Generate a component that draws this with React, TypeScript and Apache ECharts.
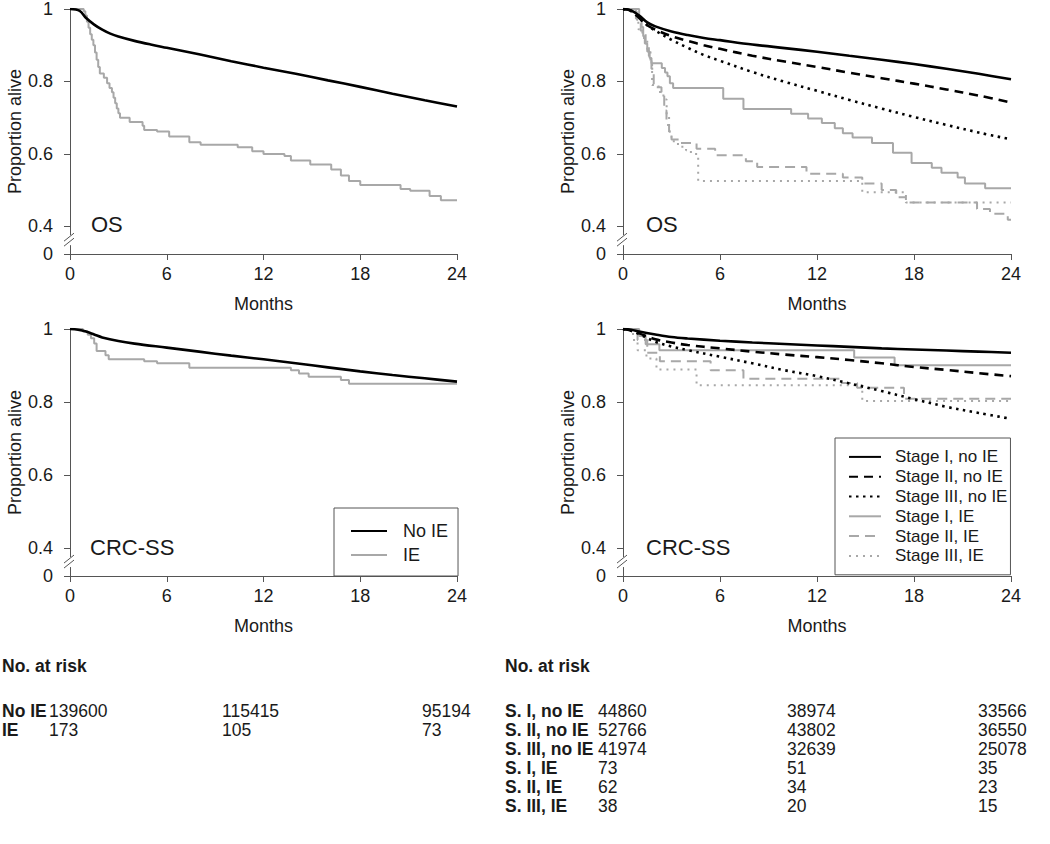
import React, { useEffect, useRef } from "react";
import * as echarts from "echarts";

const FONT = '"Liberation Sans", Arial, Helvetica, sans-serif';
const TXT = "#1a1a1a";
const AXIS = "#555555";
const BLACK = "#000000";
const GRAY = "#a8a8a8";

// axis position used to draw the "0" below the axis break
const BREAK_ZERO = 0.3236;
const Y_TICK_VALUES = [0, 0.4, 0.6, 0.8, 1];
const X_TICK_INTERVAL = 6;

// ---------- OS, overall ----------
const osNoIETime = [0, 0.6, 1.0, 1.5, 2.0, 2.5, 3.0, 4.0, 5.0, 6.0, 8.0, 10.0, 12.0, 14.0, 16.0, 18.0, 20.0, 22.0, 24.0];
const osNoIESurv = [1, 0.995, 0.975, 0.957, 0.943, 0.932, 0.924, 0.912, 0.902, 0.893, 0.875, 0.856, 0.838, 0.821, 0.803, 0.785, 0.766, 0.748, 0.731];
const osIETime = [0, 0.85, 0.95, 1.05, 1.15, 1.25, 1.35, 1.45, 1.55, 1.65, 1.75, 1.85, 2.1, 2.3, 2.45, 2.6, 2.7, 2.8, 2.9, 3.0, 3.1, 3.7, 4.5, 4.6, 5.4, 6.15, 7.4, 8.1, 10.4, 11.3, 12.0, 13.3, 13.7, 14.9, 16.2, 16.8, 17.3, 18.0, 20.5, 21.1, 22.3, 23.0, 24];
const osIESurv = [1, 0.994, 0.982, 0.965, 0.948, 0.93, 0.915, 0.9, 0.88, 0.86, 0.84, 0.822, 0.81, 0.795, 0.782, 0.77, 0.755, 0.74, 0.725, 0.712, 0.7, 0.688, 0.678, 0.666, 0.662, 0.648, 0.632, 0.625, 0.618, 0.607, 0.6, 0.594, 0.582, 0.571, 0.557, 0.54, 0.525, 0.514, 0.503, 0.498, 0.484, 0.472, 0.472];

// ---------- OS, by stage ----------
const stageTime = [0, 0.5, 1, 1.5, 2, 3, 4, 5, 6, 8, 10, 12, 14, 16, 18, 20, 22, 24];
const osS1NoIE = [1, 0.996, 0.982, 0.963, 0.952, 0.938, 0.928, 0.92, 0.914, 0.902, 0.892, 0.882, 0.871, 0.86, 0.848, 0.835, 0.821, 0.806];
const osS2NoIE = [1, 0.995, 0.975, 0.955, 0.943, 0.925, 0.912, 0.9, 0.89, 0.871, 0.855, 0.84, 0.824, 0.809, 0.794, 0.778, 0.761, 0.742];
const osS3NoIE = [1, 0.994, 0.975, 0.955, 0.94, 0.915, 0.893, 0.873, 0.857, 0.826, 0.799, 0.774, 0.749, 0.725, 0.702, 0.68, 0.659, 0.64];
const osS1IETime = [0, 1.0, 1.15, 1.25, 1.35, 1.5, 1.65, 1.76, 2.4, 2.6, 2.75, 2.9, 3.1, 6.2, 7.45, 10.4, 11.45, 12.3, 13.1, 13.6, 14.2, 15.4, 16.7, 17.85, 19.1, 19.7, 20.7, 21.15, 22.4, 24];
const osS1IESurv = [1, 0.975, 0.95, 0.925, 0.905, 0.883, 0.865, 0.85, 0.837, 0.825, 0.814, 0.795, 0.782, 0.752, 0.724, 0.711, 0.698, 0.685, 0.671, 0.657, 0.645, 0.63, 0.603, 0.575, 0.562, 0.548, 0.535, 0.518, 0.505, 0.505];
const osS2IETime = [0, 0.85, 1.1, 1.4, 1.6, 1.76, 1.9, 2.38, 2.55, 2.69, 2.85, 3.0, 3.5, 4.55, 5.7, 7.6, 8.3, 11.35, 13.6, 14.8, 16.0, 16.9, 17.5, 21.9, 22.7, 23.8, 24];
const osS2IESurv = [1, 0.97, 0.94, 0.905, 0.87, 0.835, 0.784, 0.77, 0.72, 0.68, 0.662, 0.64, 0.63, 0.614, 0.596, 0.58, 0.564, 0.545, 0.535, 0.518, 0.5, 0.48, 0.466, 0.448, 0.435, 0.418, 0.418];
const osS3IETime = [0, 0.8, 0.95, 1.2, 1.5, 1.7, 1.8, 2.2, 2.5, 2.7, 2.85, 3.0, 3.4, 3.9, 4.2, 4.65, 14.8, 17.5, 24];
const osS3IESurv = [1, 0.97, 0.944, 0.92, 0.889, 0.85, 0.79, 0.771, 0.75, 0.707, 0.662, 0.635, 0.62, 0.61, 0.6, 0.525, 0.494, 0.466, 0.466];

// ---------- CRC-SS, overall ----------
const crcNoIETime = [0, 0.5, 1, 1.5, 2, 3, 4, 6, 8, 10, 12, 14, 16, 18, 20, 22, 24];
const crcNoIESurv = [1, 0.998, 0.993, 0.985, 0.977, 0.967, 0.96, 0.949, 0.938, 0.927, 0.917, 0.906, 0.895, 0.884, 0.874, 0.865, 0.856];
const crcIETime = [0, 0.8, 1.1, 1.3, 1.5, 1.65, 2.2, 2.4, 4.6, 5.4, 7.4, 13.7, 14.2, 14.8, 16.8, 17.3, 24];
const crcIESurv = [1, 0.993, 0.984, 0.975, 0.96, 0.94, 0.928, 0.917, 0.912, 0.906, 0.894, 0.887, 0.878, 0.869, 0.86, 0.85, 0.85];

// ---------- CRC-SS, by stage ----------
const crcStageTime = [0, 0.5, 1, 2, 3, 4, 6, 8, 10, 12, 14, 16, 18, 20, 22, 24];
const crcS1NoIE = [1, 0.998, 0.993, 0.985, 0.978, 0.974, 0.968, 0.963, 0.959, 0.955, 0.951, 0.947, 0.944, 0.941, 0.938, 0.935];
const crcS2NoIE = [1, 0.996, 0.988, 0.972, 0.963, 0.956, 0.947, 0.938, 0.93, 0.923, 0.915, 0.906, 0.896, 0.888, 0.879, 0.871];
const crcS3NoIE = [1, 0.995, 0.986, 0.965, 0.952, 0.942, 0.924, 0.906, 0.887, 0.871, 0.851, 0.83, 0.808, 0.787, 0.77, 0.754];
const crcS1IETime = [0, 1.0, 1.4, 2.25, 14.3, 16.8, 24];
const crcS1IESurv = [1, 0.981, 0.958, 0.942, 0.922, 0.901, 0.901];
const crcS2IETime = [0, 0.9, 1.5, 2.28, 5.42, 7.45, 13.45, 14.48, 17.38, 24];
const crcS2IESurv = [1, 0.97, 0.935, 0.912, 0.887, 0.864, 0.852, 0.839, 0.809, 0.809];
const crcS3IETime = [0, 0.62, 0.9, 1.45, 2.07, 4.55, 14.8, 24];
const crcS3IESurv = [1, 0.97, 0.942, 0.919, 0.889, 0.846, 0.803, 0.803];

// ---------- Legends / labels ----------
const groupNames = ["No IE", "IE"];
const stageNames = ["Stage I, no IE", "Stage II, no IE", "Stage III, no IE", "Stage I, IE", "Stage II, IE", "Stage III, IE"];
const panelLabels = ["OS", "OS", "CRC-SS", "CRC-SS"];

// ---------- Numbers at risk (months 0, 12, 24) ----------
const riskHeader = "No. at risk";
const riskLeftLabels = ["No IE", "IE"];
const riskLeftCounts = [
  [139600, 115415, 95194],
  [173, 105, 73],
];
const riskRightLabels = ["S. I, no IE", "S. II, no IE", "S. III, no IE", "S. I, IE", "S. II, IE", "S. III, IE"];
const riskRightCounts = [
  [44860, 38974, 33566],
  [52766, 43802, 36550],
  [41974, 32639, 25078],
  [73, 51, 35],
  [62, 34, 23],
  [38, 20, 15],
];

const zip = (t: number[], s: number[]) => t.map((x, i) => [x, s[i]]);

type Sty = { color: string; width: number; type: any };
const S_BLACK_SOLID: Sty = { color: BLACK, width: 2.6, type: "solid" };
const S_BLACK_DASH: Sty = { color: BLACK, width: 2.6, type: [9, 6] };
const S_BLACK_DOT: Sty = { color: BLACK, width: 2.6, type: [2.5, 4.5] };
const S_GRAY_SOLID: Sty = { color: GRAY, width: 2, type: "solid" };
const S_GRAY_DASH: Sty = { color: GRAY, width: 2, type: [10, 6] };
const S_GRAY_DOT: Sty = { color: GRAY, width: 2, type: [2, 5] };

function curve(name: string, data: number[][], grid: number, sty: Sty, step: boolean) {
  return {
    name,
    type: "line",
    xAxisIndex: grid,
    yAxisIndex: grid,
    data,
    step: step ? "end" : false,
    smooth: step ? false : 0.35,
    symbol: "none",
    showSymbol: false,
    color: sty.color,
    lineStyle: { color: sty.color, width: sty.width, type: sty.type, cap: "butt" },
    z: step ? 2 : 3,
  };
}

const GRIDS = [
  { left: 70, top: 6, width: 387, height: 248 },
  { left: 623, top: 6, width: 388, height: 248 },
  { left: 70, top: 329, width: 387, height: 247 },
  { left: 623, top: 329, width: 388, height: 247 },
];

const yTickPos = Y_TICK_VALUES.map((v) => (v === 0 ? BREAK_ZERO : v));
const yFmt = (v: number) => (v < 0.39 ? "0" : v >= 0.999 ? "1" : v.toFixed(1));

function buildOption() {
  const xAxes = GRIDS.map((_, i) => ({
    gridIndex: i,
    type: "value",
    min: 0,
    max: 24,
    interval: X_TICK_INTERVAL,
    axisLine: { show: true, onZero: false, lineStyle: { color: AXIS, width: 1 } },
    axisTick: { show: true, length: 6, lineStyle: { color: AXIS, width: 1 } },
    axisLabel: { margin: 11, fontSize: 18, color: TXT, fontFamily: FONT },
    splitLine: { show: false },
    name: "Months",
    nameLocation: "middle",
    nameGap: 41,
    nameTextStyle: { fontSize: 18, color: TXT, fontFamily: FONT },
  }));
  const yAxes = GRIDS.map((_, i) => ({
    gridIndex: i,
    type: "value",
    min: BREAK_ZERO,
    max: 1,
    axisLine: { show: true, lineStyle: { color: AXIS, width: 1 } },
    axisTick: { show: true, length: 6, customValues: yTickPos, lineStyle: { color: AXIS, width: 1 } },
    axisLabel: { customValues: yTickPos, formatter: yFmt, margin: 17, fontSize: 18, color: TXT, fontFamily: FONT },
    splitLine: { show: false },
    name: "Proportion alive",
    nameLocation: "middle",
    nameGap: 44,
    nameTextStyle: { fontSize: 18, color: TXT, fontFamily: FONT },
  }));

  const series = [
    curve(groupNames[0], zip(osNoIETime, osNoIESurv), 0, S_BLACK_SOLID, false),
    curve(groupNames[1], zip(osIETime, osIESurv), 0, S_GRAY_SOLID, true),

    curve(stageNames[0], zip(stageTime, osS1NoIE), 1, S_BLACK_SOLID, false),
    curve(stageNames[1], zip(stageTime, osS2NoIE), 1, S_BLACK_DASH, false),
    curve(stageNames[2], zip(stageTime, osS3NoIE), 1, S_BLACK_DOT, false),
    curve(stageNames[3], zip(osS1IETime, osS1IESurv), 1, S_GRAY_SOLID, true),
    curve(stageNames[4], zip(osS2IETime, osS2IESurv), 1, S_GRAY_DASH, true),
    curve(stageNames[5], zip(osS3IETime, osS3IESurv), 1, S_GRAY_DOT, true),

    curve(groupNames[0], zip(crcNoIETime, crcNoIESurv), 2, S_BLACK_SOLID, false),
    curve(groupNames[1], zip(crcIETime, crcIESurv), 2, S_GRAY_SOLID, true),

    curve(stageNames[0], zip(crcStageTime, crcS1NoIE), 3, S_BLACK_SOLID, false),
    curve(stageNames[1], zip(crcStageTime, crcS2NoIE), 3, S_BLACK_DASH, false),
    curve(stageNames[2], zip(crcStageTime, crcS3NoIE), 3, S_BLACK_DOT, false),
    curve(stageNames[3], zip(crcS1IETime, crcS1IESurv), 3, S_GRAY_SOLID, true),
    curve(stageNames[4], zip(crcS2IETime, crcS2IESurv), 3, S_GRAY_DASH, true),
    curve(stageNames[5], zip(crcS3IETime, crcS3IESurv), 3, S_GRAY_DOT, true),
  ];

  const legends = [
    {
      data: groupNames,
      orient: "vertical",
      left: 334,
      top: 508,
      padding: [11, 10, 9, 16],
      itemGap: 0,
      itemWidth: 36,
      itemHeight: 14,
      borderColor: AXIS,
      borderWidth: 1,
      backgroundColor: "#ffffff",
      selectedMode: false,
      itemStyle: { opacity: 0 },
      textStyle: { fontSize: 18, color: TXT, fontFamily: FONT, lineHeight: 24, padding: [0, 0, 0, 11] },
    },
    {
      data: stageNames,
      orient: "vertical",
      left: 835,
      top: 438,
      padding: [9, 3, 9, 13],
      itemGap: 0,
      itemWidth: 32,
      itemHeight: 14,
      borderColor: AXIS,
      borderWidth: 1,
      backgroundColor: "#ffffff",
      selectedMode: false,
      itemStyle: { opacity: 0 },
      textStyle: { fontSize: 17, color: TXT, fontFamily: FONT, lineHeight: 19.8, padding: [0, 0, 0, 9] },
    },
  ];

  const titleTops = [213, 213, 536, 536];
  const titleLefts = [91, 646, 90, 646];
  const titles = panelLabels.map((t, i) => ({
    text: t,
    left: titleLefts[i],
    top: titleTops[i],
    padding: 0,
    textStyle: { fontSize: 22, fontWeight: "normal", color: TXT, fontFamily: FONT },
  }));

  return {
    animation: false,
    backgroundColor: "#ffffff",
    title: titles,
    grid: GRIDS.map((g) => ({ ...g, containLabel: false })),
    xAxis: xAxes,
    yAxis: yAxes,
    legend: legends,
    series,
  };
}

function riskTable() {
  const els: any[] = [];
  const base = { fontFamily: FONT, fontSize: 17.5, fill: TXT };
  const headerY = 666;
  const rowY0 = 711;
  const rowStep = 18.9;
  els.push({ type: "text", x: 2, y: headerY, style: { ...base, fontWeight: "bold", text: riskHeader, textVerticalAlign: "middle" } });
  const leftCols = [49, 222, 422];
  riskLeftLabels.forEach((lab, r) => {
    const y = rowY0 + r * rowStep;
    els.push({ type: "text", x: 2, y, style: { ...base, fontWeight: "bold", text: lab, textVerticalAlign: "middle" } });
    riskLeftCounts[r].forEach((n, c) => {
      els.push({ type: "text", x: leftCols[c], y, style: { ...base, text: String(n), textVerticalAlign: "middle" } });
    });
  });
  els.push({ type: "text", x: 505, y: headerY, style: { ...base, fontWeight: "bold", text: riskHeader, textVerticalAlign: "middle" } });
  const rightCols = [598, 787, 978];
  riskRightLabels.forEach((lab, r) => {
    const y = rowY0 + r * rowStep;
    els.push({ type: "text", x: 505, y, style: { ...base, fontWeight: "bold", text: lab, textVerticalAlign: "middle" } });
    riskRightCounts[r].forEach((n, c) => {
      els.push({ type: "text", x: rightCols[c], y, style: { ...base, text: String(n), textVerticalAlign: "middle" } });
    });
  });
  return els;
}

export default function App() {
  const ref = useRef<HTMLDivElement>(null);
  useEffect(() => {
    if (!ref.current) return;
    const chart = echarts.init(ref.current, undefined, { renderer: "svg" });
    chart.setOption(buildOption() as any);
    const breaks: any[] = [];
    GRIDS.forEach((_, gi) => {
      const p4 = chart.convertToPixel({ gridIndex: gi } as any, [0, 0.4]) as number[];
      const p0 = chart.convertToPixel({ gridIndex: gi } as any, [0, BREAK_ZERO]) as number[];
      const x = p0[0];
      const yb = p4[1] + (p0[1] - p4[1]) * 0.5;
      breaks.push({ type: "rect", shape: { x: x - 2, y: yb - 5, width: 4, height: 10 }, style: { fill: "#ffffff" }, z: 100 });
      breaks.push({ type: "line", shape: { x1: x - 6, y1: yb + 1, x2: x + 4, y2: yb - 7 }, style: { stroke: AXIS, lineWidth: 1 }, z: 101 });
      breaks.push({ type: "line", shape: { x1: x - 6, y1: yb + 6, x2: x + 4, y2: yb - 2 }, style: { stroke: AXIS, lineWidth: 1 }, z: 101 });
    });
    chart.setOption({ graphic: [...breaks, ...riskTable()] } as any);
    return () => chart.dispose();
  }, []);
  return <div ref={ref} style={{ position: "absolute", left: 0, top: 0, width: 1050, height: 844 }} />;
}
